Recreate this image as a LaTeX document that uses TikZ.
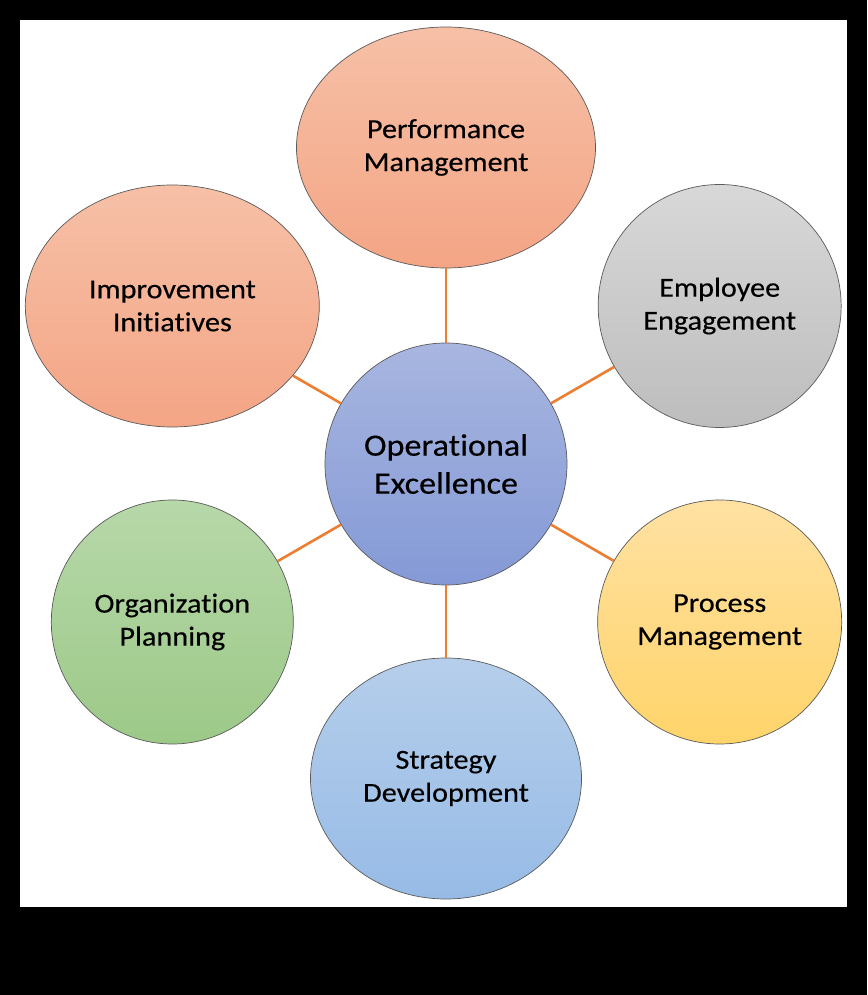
\documentclass[tikz,border=0pt]{standalone}
\usepackage{fontspec}
\setmainfont{Carlito}[FakeStretch=1.1,FakeBold=0.35,Ligatures=NoCommon]
\usepackage{tikz}
\usetikzlibrary{shapes.geometric}

\definecolor{linkorange}{HTML}{ED7D31}
\definecolor{rimgray}{HTML}{5A5A5A}
\definecolor{salmontop}{HTML}{F6C0A7}
\definecolor{salmonbot}{HTML}{F4A585}
\definecolor{hubtop}{HTML}{A8B6E0}
\definecolor{hubbot}{HTML}{8499D6}
\definecolor{greytop}{HTML}{D8D8D8}
\definecolor{greybot}{HTML}{BDBDBD}
\definecolor{greentop}{HTML}{B7D8A9}
\definecolor{greenbot}{HTML}{9CC988}
\definecolor{ambertop}{HTML}{FFE1A2}
\definecolor{amberbot}{HTML}{FFD46A}
\definecolor{skytop}{HTML}{B5CEEB}
\definecolor{skybot}{HTML}{97BBE6}

\begin{document}
\begin{tikzpicture}[x=1pt,y=1pt,
    bubble/.style={ellipse, draw=rimgray, line width=0.7pt, inner sep=0pt,
      align=center, text=black, font=\fontsize{27.5}{33}\selectfont},
    link/.style={draw=linkorange, line width=2.6pt}]
    \fill[black] (-446,464) rectangle (421,-531);
    \fill[white] (-426,444) rectangle (401,-443);
    \node[bubble, minimum width=242, minimum height=242, top color=hubtop, bottom color=hubbot,
      font=\fontsize{31}{38}\selectfont] (hub) at (0,0) {Operational\\Excellence};
    \node[bubble, minimum width=299, minimum height=241, top color=salmontop, bottom color=salmonbot]
      (perf) at (90:316.5) {Performance\\Management};
    \node[bubble, minimum width=243, minimum height=243, top color=greytop, bottom color=greybot]
      (empl) at (30:316) {Employee\\Engagement};
    \node[bubble, minimum width=244, minimum height=244, top color=ambertop, bottom color=amberbot]
      (proc) at (-30:316) {Process\\Management};
    \node[bubble, minimum width=271, minimum height=241, top color=skytop, bottom color=skybot]
      (strat) at (270:314.5) {Strategy\\Development};
    \node[bubble, minimum width=242, minimum height=244, top color=greentop, bottom color=greenbot]
      (org) at (210:316) {Organization\\Planning};
    \node[bubble, minimum width=294, minimum height=242, top color=salmontop, bottom color=salmonbot]
      (impr) at (150:316) {Improvement\\Initiatives};
    \draw[link] (hub) to (perf);
    \draw[link] (hub) to (empl);
    \draw[link] (hub) to (proc);
    \draw[link] (hub) to (strat);
    \draw[link] (hub) to (org);
    \draw[link] (hub) to (impr);
  \end{tikzpicture}
\end{document}
